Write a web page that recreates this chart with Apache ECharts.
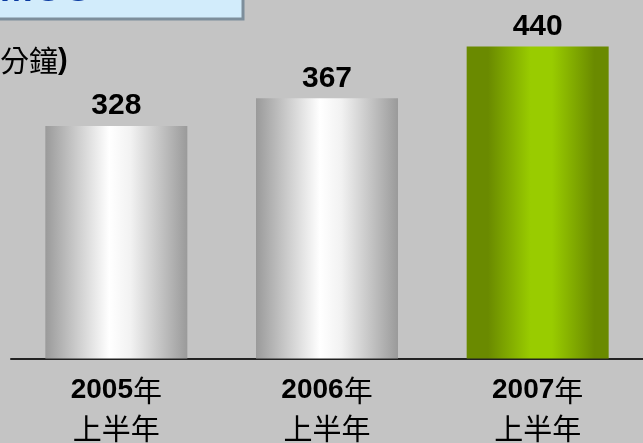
<!DOCTYPE html>
<html>
<head>
<meta charset="utf-8">
<script src="https://cdn.jsdelivr.net/npm/echarts@6/dist/echarts.min.js"></script>
<style>
  html, body { margin: 0; padding: 0; background: #c4c4c4; }
  #chart { width: 643px; height: 443px; }
</style>
</head>
<body>
<div id="chart"></div>
<script>
// 年份 / 期間
var years = ['2005', '2006', '2007'];
var periods = ['上半年', '上半年', '上半年'];
// MOU 數值 (分鐘)
var mouValues = [328, 367, 440];

var grayBar = new echarts.graphic.LinearGradient(0, 0, 1, 0, [
    {offset: 0, color: '#9a9a9a'},
    {offset: 0.45, color: '#ffffff'},
    {offset: 0.6, color: '#f2f2f2'},
    {offset: 1, color: '#9a9a9a'}
]);
var greenBar = new echarts.graphic.LinearGradient(0, 0, 1, 0, [
    {offset: 0, color: '#6a8a00'},
    {offset: 0.15, color: '#6a8a00'},
    {offset: 0.45, color: '#99cc00'},
    {offset: 0.6, color: '#99cc00'},
    {offset: 0.9, color: '#6a8a00'},
    {offset: 1, color: '#6a8a00'}
]);

var cats = [];
for (var i = 0; i < years.length; i++) {
    cats.push(years[i] + '|' + periods[i]);
}
var barData = [];
for (var j = 0; j < mouValues.length; j++) {
    barData.push({
        value: mouValues[j],
        itemStyle: {color: j == mouValues.length - 1 ? greenBar : grayBar}
    });
}

var myChart = echarts.init(document.getElementById('chart'));
var option = {
    backgroundColor: '#c4c4c4',
    animation: false,
    grid: {left: 11, top: 4, width: 638, bottom: 80, containLabel: false},
    xAxis: {
        type: 'category',
        data: cats,
        axisLine: {lineStyle: {color: '#222222', width: 2}},
        axisTick: {show: false},
        axisLabel: {
            margin: 13,
            formatter: function (v) {
                var p = v.split('|');
                return '{y|' + p[0] + '}{n|年}\n{n|' + p[1] + '}';
            },
            rich: {
                y: {fontFamily: 'Arial, Liberation Sans', fontWeight: 'bold', fontSize: 28, color: '#000', lineHeight: 38},
                n: {fontFamily: 'Noto Sans CJK TC', fontSize: 29, color: '#000', lineHeight: 38}
            }
        }
    },
    yAxis: {
        type: 'value',
        min: 0,
        max: 500,
        show: false,
        splitLine: {show: false}
    },
    series: [{
        type: 'bar',
        data: barData,
        barWidth: 142,
        label: {
            show: true,
            position: 'top',
            distance: 5,
            fontFamily: 'Arial, Liberation Sans',
            fontWeight: 'bold',
            fontSize: 30,
            color: '#000'
        }
    }],
    graphic: [
        {
            type: 'rect',
            shape: {x: -3, y: -3, width: 246, height: 22},
            style: {fill: '#d2ecfb', stroke: '#7d8e9b', lineWidth: 3}
        },
        {
            type: 'text',
            x: 93,
            y: 10,
            style: {
                text: 'MOU',
                fill: '#0a3aa0',
                fontFamily: 'Arial, Liberation Sans',
                fontWeight: 'bold',
                fontSize: 40,
                align: 'right',
                verticalAlign: 'bottom'
            }
        },
        {
            type: 'text',
            x: 0,
            y: 61,
            style: {
                text: '{c|分鐘}{p|)}',
                rich: {
                    c: {fontFamily: 'Noto Sans CJK TC', fontSize: 29, fill: '#000'},
                    p: {fontFamily: 'Arial, Liberation Sans', fontWeight: 'bold', fontSize: 29, fill: '#000'}
                },
                align: 'left',
                verticalAlign: 'middle'
            }
        }
    ]
};
myChart.setOption(option);
</script>
</body>
</html>
